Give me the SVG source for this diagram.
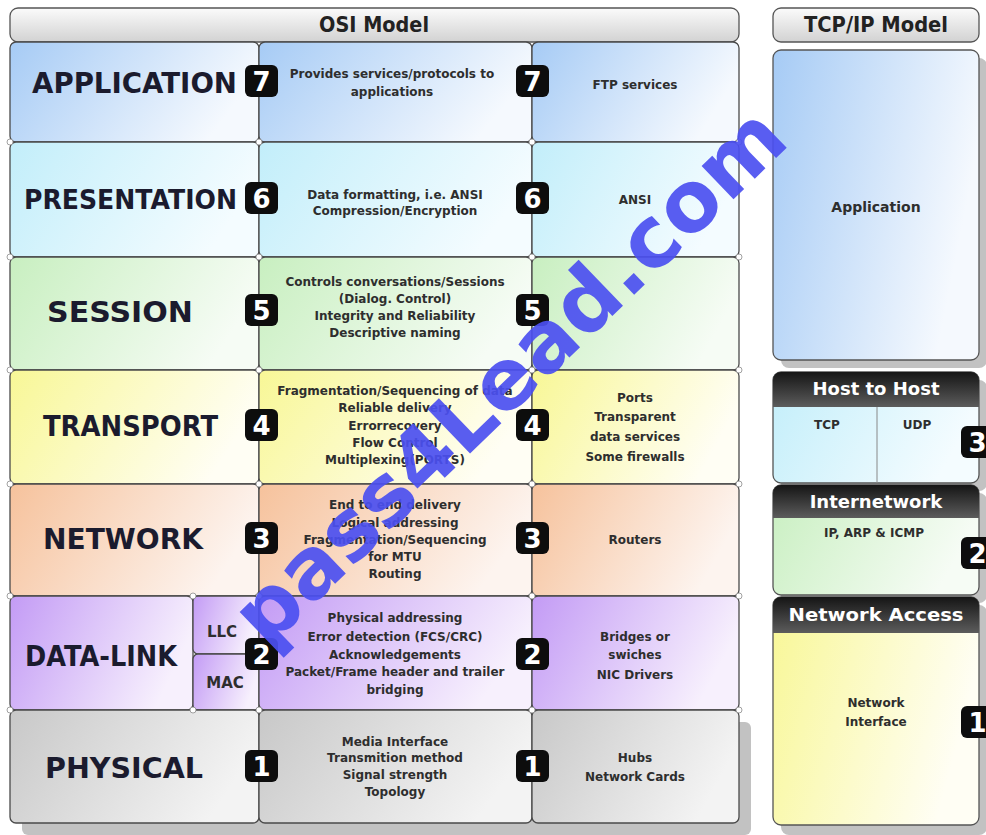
<svg xmlns="http://www.w3.org/2000/svg" width="986" height="835" viewBox="0 0 986 835">
<defs>
<linearGradient id="gBlue" x1="0" y1="0" x2="1" y2="0.3"><stop offset="0" stop-color="#a6cbf5"/><stop offset="1" stop-color="#f5f9fe"/></linearGradient>
<linearGradient id="gCyan" x1="0" y1="0" x2="1" y2="0.3"><stop offset="0" stop-color="#c2eefa"/><stop offset="1" stop-color="#f4fcff"/></linearGradient>
<linearGradient id="gGreen" x1="0" y1="0" x2="1" y2="0.3"><stop offset="0" stop-color="#c8efc0"/><stop offset="1" stop-color="#f6fcf5"/></linearGradient>
<linearGradient id="gYellow" x1="0" y1="0" x2="1" y2="0.3"><stop offset="0" stop-color="#f8f796"/><stop offset="1" stop-color="#fffef4"/></linearGradient>
<linearGradient id="gOrange" x1="0" y1="0" x2="1" y2="0.3"><stop offset="0" stop-color="#f6c29c"/><stop offset="1" stop-color="#fdf4ef"/></linearGradient>
<linearGradient id="gPurple" x1="0" y1="0" x2="1" y2="0.3"><stop offset="0" stop-color="#c39bf5"/><stop offset="1" stop-color="#f7f0fd"/></linearGradient>
<linearGradient id="gGray" x1="0" y1="0" x2="1" y2="0.3"><stop offset="0" stop-color="#c8c8c8"/><stop offset="1" stop-color="#f3f3f3"/></linearGradient>
<linearGradient id="gHead" x1="0" y1="0" x2="0" y2="1"><stop offset="0" stop-color="#fbfbfb"/><stop offset="1" stop-color="#d2d2d2"/></linearGradient>
<linearGradient id="gDark" x1="0" y1="0" x2="0" y2="1"><stop offset="0" stop-color="#151515"/><stop offset="1" stop-color="#5c5c5c"/></linearGradient>
<style>
.cell{stroke:#4a4a4a;stroke-width:1.3}
.big{font-family:"DejaVu Sans","Liberation Sans",sans-serif;font-weight:bold;font-size:28px;fill:#1b1b2e}
.sm{font-family:"DejaVu Sans","Liberation Sans",sans-serif;font-weight:bold;font-size:12px;fill:#2e2e2e;text-anchor:middle}
.hd{font-family:"DejaVu Sans","Liberation Sans",sans-serif;font-weight:bold;font-size:21px;fill:#222;text-anchor:middle}
.wh{font-family:"DejaVu Sans","Liberation Sans",sans-serif;font-weight:bold;font-size:18px;fill:#ffffff;text-anchor:middle}
.bd{fill:#0d0d0d}
.bn{font-family:"DejaVu Sans","Liberation Sans",sans-serif;font-weight:bold;font-size:26px;fill:#ffffff;text-anchor:middle}
.knob{fill:#ffffff;stroke:#8a8a8a;stroke-width:0.8}
.shadow{fill:#c2c2c2}
</style>
</defs>
<rect width="986" height="835" fill="#ffffff"/>

<!-- shadows -->
<g id="shadows">
<rect class="shadow" x="22" y="722" width="729" height="113" rx="6"/>
<rect class="shadow" x="781" y="58" width="206" height="310" rx="8"/>
<rect class="shadow" x="781" y="380" width="206" height="111" rx="8"/>
<rect class="shadow" x="781" y="493" width="206" height="110" rx="8"/>
<rect class="shadow" x="781" y="605" width="206" height="230" rx="8"/>
</g>

<!-- headers -->
<g id="osi-header">
<rect x="10" y="8" width="729" height="34" rx="8" fill="url(#gHead)" stroke="#555" stroke-width="1.3"/>
<text class="hd" x="374" y="32" textLength="110" lengthAdjust="spacingAndGlyphs">OSI Model</text>
</g>
<g id="tcp-header">
<rect x="773" y="8" width="206" height="34" rx="8" fill="url(#gHead)" stroke="#555" stroke-width="1.3"/>
<text class="hd" x="876" y="32" textLength="144" lengthAdjust="spacingAndGlyphs">TCP/IP Model</text>
</g>

<!-- Row 7 Application -->
<g id="application">
<rect class="cell" x="10" y="42" width="249" height="100" rx="6" fill="url(#gBlue)"/>
<rect class="cell" x="259" y="42" width="273" height="100" rx="6" fill="url(#gBlue)"/>
<rect class="cell" x="532" y="42" width="207" height="100" rx="6" fill="url(#gBlue)"/>
<text class="big" x="32" y="93" textLength="205" lengthAdjust="spacingAndGlyphs">APPLICATION</text>
<text class="sm" x="392" y="78">Provides services/protocols to</text>
<text class="sm" x="392" y="96">applications</text>
<text class="sm" x="635" y="89">FTP services</text>
</g>

<!-- Row 6 Presentation -->
<g id="presentation">
<rect class="cell" x="10" y="142" width="249" height="115" rx="6" fill="url(#gCyan)"/>
<rect class="cell" x="259" y="142" width="273" height="115" rx="6" fill="url(#gCyan)"/>
<rect class="cell" x="532" y="142" width="207" height="115" rx="6" fill="url(#gCyan)"/>
<text class="big" x="24" y="209" style="font-size:26px" textLength="213" lengthAdjust="spacingAndGlyphs">PRESENTATION</text>
<text class="sm" x="395" y="199">Data formatting, i.e. ANSI</text>
<text class="sm" x="395" y="215">Compression/Encryption</text>
<text class="sm" x="635" y="204">ANSI</text>
</g>

<!-- Row 5 Session -->
<g id="session">
<rect class="cell" x="10" y="257" width="249" height="113" rx="6" fill="url(#gGreen)"/>
<rect class="cell" x="259" y="257" width="273" height="113" rx="6" fill="url(#gGreen)"/>
<rect class="cell" x="532" y="257" width="207" height="113" rx="6" fill="url(#gGreen)"/>
<text class="big" x="47" y="322" textLength="146" lengthAdjust="spacingAndGlyphs">SESSION</text>
<text class="sm" x="395" y="286">Controls conversations/Sessions</text>
<text class="sm" x="395" y="303">(Dialog. Control)</text>
<text class="sm" x="395" y="320">Integrity and Reliability</text>
<text class="sm" x="395" y="337">Descriptive naming</text>
</g>

<!-- Row 4 Transport -->
<g id="transport">
<rect class="cell" x="10" y="370" width="249" height="114" rx="6" fill="url(#gYellow)"/>
<rect class="cell" x="259" y="370" width="273" height="114" rx="6" fill="url(#gYellow)"/>
<rect class="cell" x="532" y="370" width="207" height="114" rx="6" fill="url(#gYellow)"/>
<text class="big" x="43" y="436" textLength="175" lengthAdjust="spacingAndGlyphs">TRANSPORT</text>
<text class="sm" x="395" y="395">Fragmentation/Sequencing of data</text>
<text class="sm" x="395" y="412">Reliable delivery</text>
<text class="sm" x="395" y="430">Errorrecovery</text>
<text class="sm" x="395" y="447">Flow Control</text>
<text class="sm" x="395" y="464">Multiplexing(PORTS)</text>
<text class="sm" x="635" y="402">Ports</text>
<text class="sm" x="635" y="421">Transparent</text>
<text class="sm" x="635" y="441">data services</text>
<text class="sm" x="635" y="461">Some firewalls</text>
</g>

<!-- Row 3 Network -->
<g id="network">
<rect class="cell" x="10" y="484" width="249" height="112" rx="6" fill="url(#gOrange)"/>
<rect class="cell" x="259" y="484" width="273" height="112" rx="6" fill="url(#gOrange)"/>
<rect class="cell" x="532" y="484" width="207" height="112" rx="6" fill="url(#gOrange)"/>
<text class="big" x="43" y="549" textLength="160" lengthAdjust="spacingAndGlyphs">NETWORK</text>
<text class="sm" x="395" y="509">End to end delivery</text>
<text class="sm" x="395" y="527">Logical addressing</text>
<text class="sm" x="395" y="544">Fragmentation/Sequencing</text>
<text class="sm" x="395" y="561">for MTU</text>
<text class="sm" x="395" y="578">Routing</text>
<text class="sm" x="635" y="544">Routers</text>
</g>

<!-- Row 2 Data-Link -->
<g id="data-link">
<rect class="cell" x="10" y="596" width="183" height="114" rx="6" fill="url(#gPurple)"/>
<rect class="cell" x="193" y="596" width="66" height="58" rx="5" fill="url(#gPurple)"/>
<rect class="cell" x="193" y="654" width="66" height="56" rx="5" fill="url(#gPurple)"/>
<rect class="cell" x="259" y="596" width="273" height="114" rx="6" fill="url(#gPurple)"/>
<rect class="cell" x="532" y="596" width="207" height="114" rx="6" fill="url(#gPurple)"/>
<text class="big" x="25" y="666" textLength="152" lengthAdjust="spacingAndGlyphs">DATA-LINK</text>
<text class="sm" x="222" y="637" style="font-size:15px">LLC</text>
<text class="sm" x="225" y="688" style="font-size:15px">MAC</text>
<text class="sm" x="395" y="622">Physical addressing</text>
<text class="sm" x="395" y="641">Error detection (FCS/CRC)</text>
<text class="sm" x="395" y="659">Acknowledgements</text>
<text class="sm" x="395" y="676">Packet/Frame header and trailer</text>
<text class="sm" x="395" y="694">bridging</text>
<text class="sm" x="635" y="641">Bridges or</text>
<text class="sm" x="635" y="659">swiches</text>
<text class="sm" x="635" y="679">NIC Drivers</text>
</g>

<!-- Row 1 Physical -->
<g id="physical">
<rect class="cell" x="10" y="710" width="249" height="113" rx="6" fill="url(#gGray)"/>
<rect class="cell" x="259" y="710" width="273" height="113" rx="6" fill="url(#gGray)"/>
<rect class="cell" x="532" y="710" width="207" height="113" rx="6" fill="url(#gGray)"/>
<text class="big" x="45" y="778" textLength="158" lengthAdjust="spacingAndGlyphs">PHYSICAL</text>
<text class="sm" x="395" y="746">Media Interface</text>
<text class="sm" x="395" y="762">Transmition method</text>
<text class="sm" x="395" y="779">Signal strength</text>
<text class="sm" x="395" y="796">Topology</text>
<text class="sm" x="635" y="762">Hubs</text>
<text class="sm" x="635" y="781">Network Cards</text>
</g>

<!-- knobs at cell corners -->
<g id="knobs">
<circle class="knob" cx="10" cy="142" r="3"/><circle class="knob" cx="259" cy="142" r="3"/><circle class="knob" cx="532" cy="142" r="3"/><circle class="knob" cx="739" cy="142" r="3"/>
<circle class="knob" cx="10" cy="257" r="3"/><circle class="knob" cx="259" cy="257" r="3"/><circle class="knob" cx="532" cy="257" r="3"/><circle class="knob" cx="739" cy="257" r="3"/>
<circle class="knob" cx="10" cy="370" r="3"/><circle class="knob" cx="259" cy="370" r="3"/><circle class="knob" cx="532" cy="370" r="3"/><circle class="knob" cx="739" cy="370" r="3"/>
<circle class="knob" cx="10" cy="484" r="3"/><circle class="knob" cx="259" cy="484" r="3"/><circle class="knob" cx="532" cy="484" r="3"/><circle class="knob" cx="739" cy="484" r="3"/>
<circle class="knob" cx="10" cy="596" r="3"/><circle class="knob" cx="193" cy="596" r="3"/><circle class="knob" cx="259" cy="596" r="3"/><circle class="knob" cx="532" cy="596" r="3"/><circle class="knob" cx="739" cy="596" r="3"/>
<circle class="knob" cx="10" cy="710" r="3"/><circle class="knob" cx="193" cy="710" r="3"/><circle class="knob" cx="259" cy="710" r="3"/><circle class="knob" cx="532" cy="710" r="3"/><circle class="knob" cx="739" cy="710" r="3"/>
</g>

<!-- TCP/IP column -->
<g id="tcp-application">
<rect x="773" y="50" width="206" height="310" rx="8" fill="url(#gBlue)" stroke="#555" stroke-width="1.3"/>
<text class="sm" x="876" y="212" style="font-size:14px">Application</text>
</g>
<g id="host-to-host">
<rect x="773" y="372" width="206" height="111" rx="8" fill="url(#gCyan)" stroke="#555" stroke-width="1.3"/>
<line x1="877" y1="407" x2="877" y2="483" stroke="#888" stroke-width="1"/>
<path d="M773,407 V380 a8,8 0 0 1 8,-8 H971 a8,8 0 0 1 8,8 V407 Z" fill="url(#gDark)"/>
<text class="wh" x="876" y="395">Host to Host</text>
<text class="sm" x="827" y="429">TCP</text>
<text class="sm" x="917" y="429">UDP</text>
</g>
<g id="internetwork">
<rect x="773" y="485" width="206" height="110" rx="8" fill="url(#gGreen)" stroke="#555" stroke-width="1.3"/>
<path d="M773,518 V493 a8,8 0 0 1 8,-8 H971 a8,8 0 0 1 8,8 V518 Z" fill="url(#gDark)"/>
<text class="wh" x="876" y="508">Internetwork</text>
<text class="sm" x="874" y="537">IP, ARP &amp; ICMP</text>
</g>
<g id="network-access">
<rect x="773" y="597" width="206" height="228" rx="8" fill="url(#gYellow)" stroke="#555" stroke-width="1.3"/>
<path d="M773,633 V605 a8,8 0 0 1 8,-8 H971 a8,8 0 0 1 8,8 V633 Z" fill="url(#gDark)"/>
<text class="wh" x="876" y="621" textLength="175" lengthAdjust="spacingAndGlyphs">Network Access</text>
<text class="sm" x="876" y="707">Network</text>
<text class="sm" x="876" y="726">Interface</text>
</g>

<!-- badges -->
<g id="badges">
<rect class="bd" x="245" y="65" width="33" height="32" rx="6"/><text class="bn" x="261.5" y="91">7</text>
<rect class="bd" x="516" y="65" width="33" height="32" rx="6"/><text class="bn" x="532.5" y="91">7</text>
<rect class="bd" x="245" y="182" width="33" height="32" rx="6"/><text class="bn" x="261.5" y="208">6</text>
<rect class="bd" x="516" y="182" width="33" height="32" rx="6"/><text class="bn" x="532.5" y="208">6</text>
<rect class="bd" x="245" y="294" width="33" height="32" rx="6"/><text class="bn" x="261.5" y="320">5</text>
<rect class="bd" x="516" y="294" width="33" height="32" rx="6"/><text class="bn" x="532.5" y="320">5</text>
<rect class="bd" x="245" y="409" width="33" height="32" rx="6"/><text class="bn" x="261.5" y="435">4</text>
<rect class="bd" x="516" y="409" width="33" height="32" rx="6"/><text class="bn" x="532.5" y="435">4</text>
<rect class="bd" x="245" y="522" width="33" height="32" rx="6"/><text class="bn" x="261.5" y="548">3</text>
<rect class="bd" x="516" y="522" width="33" height="32" rx="6"/><text class="bn" x="532.5" y="548">3</text>
<rect class="bd" x="245" y="638" width="33" height="32" rx="6"/><text class="bn" x="261.5" y="664">2</text>
<rect class="bd" x="516" y="638" width="33" height="32" rx="6"/><text class="bn" x="532.5" y="664">2</text>
<rect class="bd" x="245" y="750" width="33" height="32" rx="6"/><text class="bn" x="261.5" y="776">1</text>
<rect class="bd" x="516" y="750" width="33" height="32" rx="6"/><text class="bn" x="532.5" y="776">1</text>
<rect class="bd" x="961" y="426" width="33" height="32" rx="6"/><text class="bn" x="977.5" y="452">3</text>
<rect class="bd" x="961" y="537" width="33" height="32" rx="6"/><text class="bn" x="977.5" y="563">2</text>
<rect class="bd" x="961" y="706" width="33" height="32" rx="6"/><text class="bn" x="977.5" y="732">1</text>
</g>

<!-- watermark -->
<g id="watermark" transform="translate(513,380) rotate(-44)">
<text x="0" y="23" text-anchor="middle" style="font-family:'DejaVu Sans','Liberation Sans',sans-serif;font-weight:bold;font-size:84px;fill:#4b4ff0;fill-opacity:0.92">pass4Lead.com</text>
</g>
</svg>
